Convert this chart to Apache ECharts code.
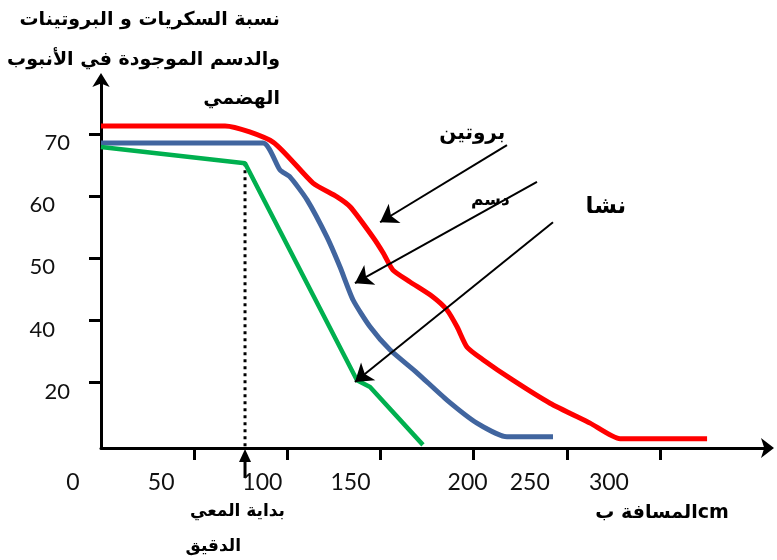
<!DOCTYPE html>
<html><head><meta charset="utf-8">
<script src="https://cdn.jsdelivr.net/npm/echarts@6/dist/echarts.min.js"></script>
<style>html,body{margin:0;padding:0;background:#fff}#c{width:777px;height:560px}</style>
</head><body><div id="c"></div>
<script>
// ---- data (x: distance in cm, y: percentage) ----
const proteinX = [0, 66.6, 92.3, 113.8, 126.7, 133.7, 146.0, 151.4, 156.7, 165.9, 178.2, 185.7, 191.1, 196.5, 205.0, 221.1, 241.0, 262.5, 278.6, 325.3];
const proteinY = [71.3, 71.3, 68.7, 62.1, 59.9, 58.3, 53.4, 50.9, 48.1, 46.2, 43.8, 41.7, 39.0, 35.7, 33.7, 30.4, 26.7, 23.5, 21.0, 21.0];
const fatX = [0, 87.0, 96.1, 101.4, 110.6, 121.3, 128.3, 135.3, 144.4, 155.1, 169.6, 185.7, 201.8, 217.9, 242.6];
const fatY = [68.55, 68.55, 64.2, 63.1, 59.4, 53.4, 48.6, 43.3, 39.0, 35.3, 31.6, 27.2, 23.5, 21.3, 21.3];
const starchX = [0, 77.3, 137.4, 144.4, 172.8];
const starchY = [67.9, 65.3, 30.4, 29.3, 20.0];

const xTickValues = [50, 100, 150, 200, 250, 300];
const xLabelValues = [0, 50, 100, 150, 200, 250, 300];
const xLabelTexts = ['0', '50', '100', '150', '200', '250', '300'];
const yTickValues = [30, 40, 50, 60, 70];
const yLabelTexts = ['20', '40', '50', '60', '70'];

const seriesNames = ['بروتين', 'دسم', 'نشا'];
const yTitleLines = ['نسبة السكريات و البروتينات', 'والدسم الموجودة في الأنبوب', 'الهضمي'];
const xTitle = 'المسافة بcm';
const smallIntestine = ['بداية المعي', 'الدقيق'];

// annotation arrows: [tailX, tailY, tipX, tipY]
const arrowProtein = [217.9, 68.2, 149.8, 55.8];
const arrowFat = [234.0, 62.3, 136.3, 46.0];
const arrowStarch = [242.6, 55.8, 136.3, 30.1];
// label anchors
const labelPos = [[217, 70.0], [209, 59.3], [271, 58.2]];

const pairs = (xs, ys) => xs.map((x, i) => [x, ys[i]]);
const X_MIN = 0, X_MAX = 358, Y_MIN = 19.5, Y_MAX = 79;

// per-label visual offsets
const xShift = [28, 33, 25, 30, 6, 37, 51];
const yShift = [0, 15, 15, 15, 0];
const xRich = {}, yRich = {};
xShift.forEach((d, i) => { xRich['x' + i] = { padding: [0, 2 * d, 0, 0], fontFamily: 'Lato', fontSize: 23, color: '#111' }; });
yShift.forEach((d, i) => { yRich['y' + i] = { padding: [18, d, 0, 0], fontFamily: 'Lato', fontSize: 22, color: '#111' }; });

const chart = echarts.init(document.getElementById('c'), null, { renderer: 'canvas' });
const arrowLine = a => [{ coord: [a[0], a[1]] }, { coord: [a[2], a[3]] }];

chart.setOption({
  animation: false,
  backgroundColor: '#fff',
  grid: { left: 101, right: 9, top: 78, bottom: 112 },
  xAxis: {
    type: 'value', min: X_MIN, max: X_MAX,
    axisLine: { show: true, onZero: false, symbol: ['none', 'arrow'], symbolSize: [15, 13], symbolOffset: [0, 6], lineStyle: { color: '#000', width: 3 } },
    axisTick: { show: true, customValues: xTickValues, length: 12, lineStyle: { color: '#000', width: 3 } },
    axisLabel: {
      customValues: xLabelValues, margin: 23,
      formatter: v => { const i = xLabelValues.indexOf(v); return '{x' + i + '|' + xLabelTexts[i] + '}'; },
      rich: xRich
    },
    splitLine: { show: false }
  },
  yAxis: {
    type: 'value', min: Y_MIN, max: Y_MAX,
    axisLine: { show: true, onZero: false, symbol: ['none', 'arrow'], symbolSize: [13, 14], symbolOffset: [0, 5], lineStyle: { color: '#000', width: 3 } },
    axisTick: { show: true, customValues: yTickValues, length: 12, lineStyle: { color: '#000', width: 3 } },
    axisLabel: {
      customValues: yTickValues, margin: 31,
      formatter: v => { const i = yTickValues.indexOf(v); return '{y' + i + '|' + yLabelTexts[i] + '}'; },
      rich: yRich
    },
    splitLine: { show: false }
  },
  series: [
    {
      name: 'guide', type: 'line', data: [[starchX[1], starchY[1]], [starchX[1], Y_MIN]],
      symbol: 'none', silent: true, z: 1,
      lineStyle: { color: '#000', width: 3, type: [3, 4] }
    },
    {
      name: seriesNames[0], type: 'line', data: pairs(proteinX, proteinY), symbol: 'none', smooth: 0.2,
      lineStyle: { color: '#ff0000', width: 5 }, z: 3,
      markLine: {
        silent: true, symbol: ['none', 'arrow'], symbolSize: 17, animation: false,
        label: { show: false },
        lineStyle: { color: '#000', width: 2, type: 'solid' },
        data: [arrowLine(arrowProtein), arrowLine(arrowFat), arrowLine(arrowStarch)]
      }
    },
    { name: seriesNames[1], type: 'line', data: pairs(fatX, fatY), symbol: 'none', smooth: 0.2, lineStyle: { color: '#41659f', width: 5 }, z: 3 },
    { name: seriesNames[2], type: 'line', data: pairs(starchX, starchY), symbol: 'none', lineStyle: { color: '#00b04f', width: 4.5 }, z: 3 }
  ]
});

// annotations placed through the chart's own scales
const px = p => chart.convertToPixel({ gridIndex: 0 }, p);
const ax = px([starchX[1], Y_MIN]);
const axisY = px([0, Y_MIN])[1];
const lp = labelPos.map(px);
const arabic = 'DejaVu Sans';
const F = (size) => 'bold ' + size + 'px "' + arabic + '"';
const titleY = [20, 60, 99];
chart.setOption({
  graphic: [
    ...yTitleLines.map((t, i) => ({ type: 'text', x: 280, y: titleY[i], style: { text: t, font: F(19), fill: '#000', align: 'right', verticalAlign: 'middle' } })),
    { type: 'text', x: lp[0][0], y: lp[0][1], style: { text: seriesNames[0], font: F(20), fill: '#000', align: 'right', verticalAlign: 'middle' } },
    { type: 'text', x: lp[1][0], y: lp[1][1], style: { text: seriesNames[1], font: F(17), fill: '#000', align: 'center', verticalAlign: 'middle' } },
    { type: 'text', x: lp[2][0], y: lp[2][1], style: { text: seriesNames[2], font: F(23), fill: '#000', align: 'center', verticalAlign: 'middle' } },
    { type: 'polygon', shape: { points: [[ax[0], axisY + 1], [ax[0] - 6, axisY + 14], [ax[0] + 6, axisY + 14]] }, style: { fill: '#000' } },
    { type: 'line', shape: { x1: ax[0], y1: axisY + 10, x2: ax[0], y2: axisY + 30 }, style: { stroke: '#000', lineWidth: 3 } },
    { type: 'text', x: 285, y: 512, style: { text: smallIntestine[0], font: F(17), fill: '#000', align: 'right', verticalAlign: 'middle' } },
    { type: 'text', x: 241, y: 547, style: { text: smallIntestine[1], font: F(17), fill: '#000', align: 'right', verticalAlign: 'middle' } },
    { type: 'text', x: 662, y: 513, style: { text: xTitle, font: F(19), fill: '#000', align: 'center', verticalAlign: 'middle' } }
  ]
});
</script>
</body></html>
